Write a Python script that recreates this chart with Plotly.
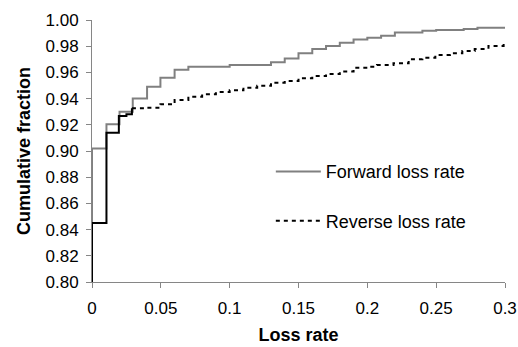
import plotly.graph_objects as go

# Forward loss rate CDF (step points: value starting at x)
fwd_x = [0, 0, 0.0105, 0.020, 0.0296, 0.040, 0.0497, 0.060, 0.070, 0.100, 0.130, 0.140, 0.150,
         0.160, 0.170, 0.180, 0.190, 0.200, 0.210, 0.220, 0.240, 0.250, 0.270, 0.280, 0.300]
fwd_y = [0.800, 0.902, 0.9205, 0.930, 0.940, 0.949, 0.956, 0.962, 0.9644, 0.9656, 0.9677, 0.9707,
         0.9746, 0.9779, 0.9802, 0.9827, 0.9852, 0.9865, 0.988, 0.9905, 0.9917, 0.9924, 0.9931,
         0.9941, 0.9941]

# Reverse loss rate CDF
rev_x = [0, 0, 0.0105, 0.0195, 0.025, 0.029, 0.040, 0.0497, 0.060, 0.070, 0.080, 0.090, 0.100,
         0.110, 0.120, 0.130, 0.140, 0.150, 0.160, 0.170, 0.180, 0.190, 0.200, 0.207, 0.219,
         0.230, 0.240, 0.2494, 0.260, 0.269, 0.278, 0.288, 0.299, 0.300]
rev_y = [0.800, 0.845, 0.914, 0.9267, 0.928, 0.9326, 0.933, 0.9356, 0.939, 0.9415, 0.9433, 0.945,
         0.9463, 0.9483, 0.9499, 0.9521, 0.9534, 0.9555, 0.9572, 0.9588, 0.9606, 0.9636, 0.9644,
         0.9656, 0.9669, 0.970, 0.9712, 0.9733, 0.9746, 0.9763, 0.9779, 0.9802, 0.983, 0.983]

y_ticks = [0.80, 0.82, 0.84, 0.86, 0.88, 0.90, 0.92, 0.94, 0.96, 0.98, 1.00]
x_ticks = [0, 0.05, 0.1, 0.15, 0.2, 0.25, 0.3]

FONT = "Liberation Sans, Arial, sans-serif"
AXIS_COLOR = "#868686"

# split reverse series: steep initial part drawn solid (as in reference), rest dashed
split = 6
fig = go.Figure()
fig.add_trace(go.Scatter(x=fwd_x, y=fwd_y, mode="lines", line_shape="hv",
                         line=dict(color="#808080", width=2), name="Forward loss rate",
                         legend="legend", cliponaxis=False))
fig.add_trace(go.Scatter(x=rev_x[:split], y=rev_y[:split], mode="lines", line_shape="hv",
                         line=dict(color="#000000", width=2), showlegend=False,
                         cliponaxis=False))
fig.add_trace(go.Scatter(x=rev_x[split - 1:], y=rev_y[split - 1:], mode="lines", line_shape="hv",
                         line=dict(color="#000000", width=2, dash="4px,4px"),
                         name="Reverse loss rate", legend="legend2", cliponaxis=False))

legend_common = dict(xanchor="left", yanchor="middle", bgcolor="rgba(0,0,0,0)",
                     font=dict(size=18, color="black"), itemwidth=45)

fig.update_layout(
    width=518, height=347,
    margin=dict(l=92, r=13, t=20, b=65),
    paper_bgcolor="white", plot_bgcolor="white",
    font=dict(family=FONT, size=17, color="black"),
    legend=dict(x=0.433, y=0.421, **legend_common),
    legend2=dict(x=0.433, y=0.233, **legend_common),
    xaxis=dict(range=[0, 0.3], tickvals=x_ticks, showgrid=False, zeroline=False,
               showline=True, linecolor=AXIS_COLOR, linewidth=1, automargin=False,
               ticks="outside", ticklen=5, tickcolor=AXIS_COLOR, ticklabelstandoff=6,
               title=dict(text="<b>Loss rate</b>", font=dict(size=18), standoff=10),
               tickfont=dict(size=17)),
    yaxis=dict(range=[0.8, 1.0], tickvals=y_ticks, tickformat=".2f", showgrid=False,
               zeroline=False, showline=True, linecolor=AXIS_COLOR, linewidth=1,
               automargin=False,
               ticks="outside", ticklen=5, tickcolor=AXIS_COLOR, ticklabelstandoff=4,
               title=dict(text="<b>Cumulative fraction</b>", font=dict(size=18), standoff=10),
               tickfont=dict(size=17)),
)

fig.write_html(
    "out.html",
    config={"displayModeBar": False},
    post_script="document.body.style.margin='0';document.body.style.overflow='hidden';",
)
